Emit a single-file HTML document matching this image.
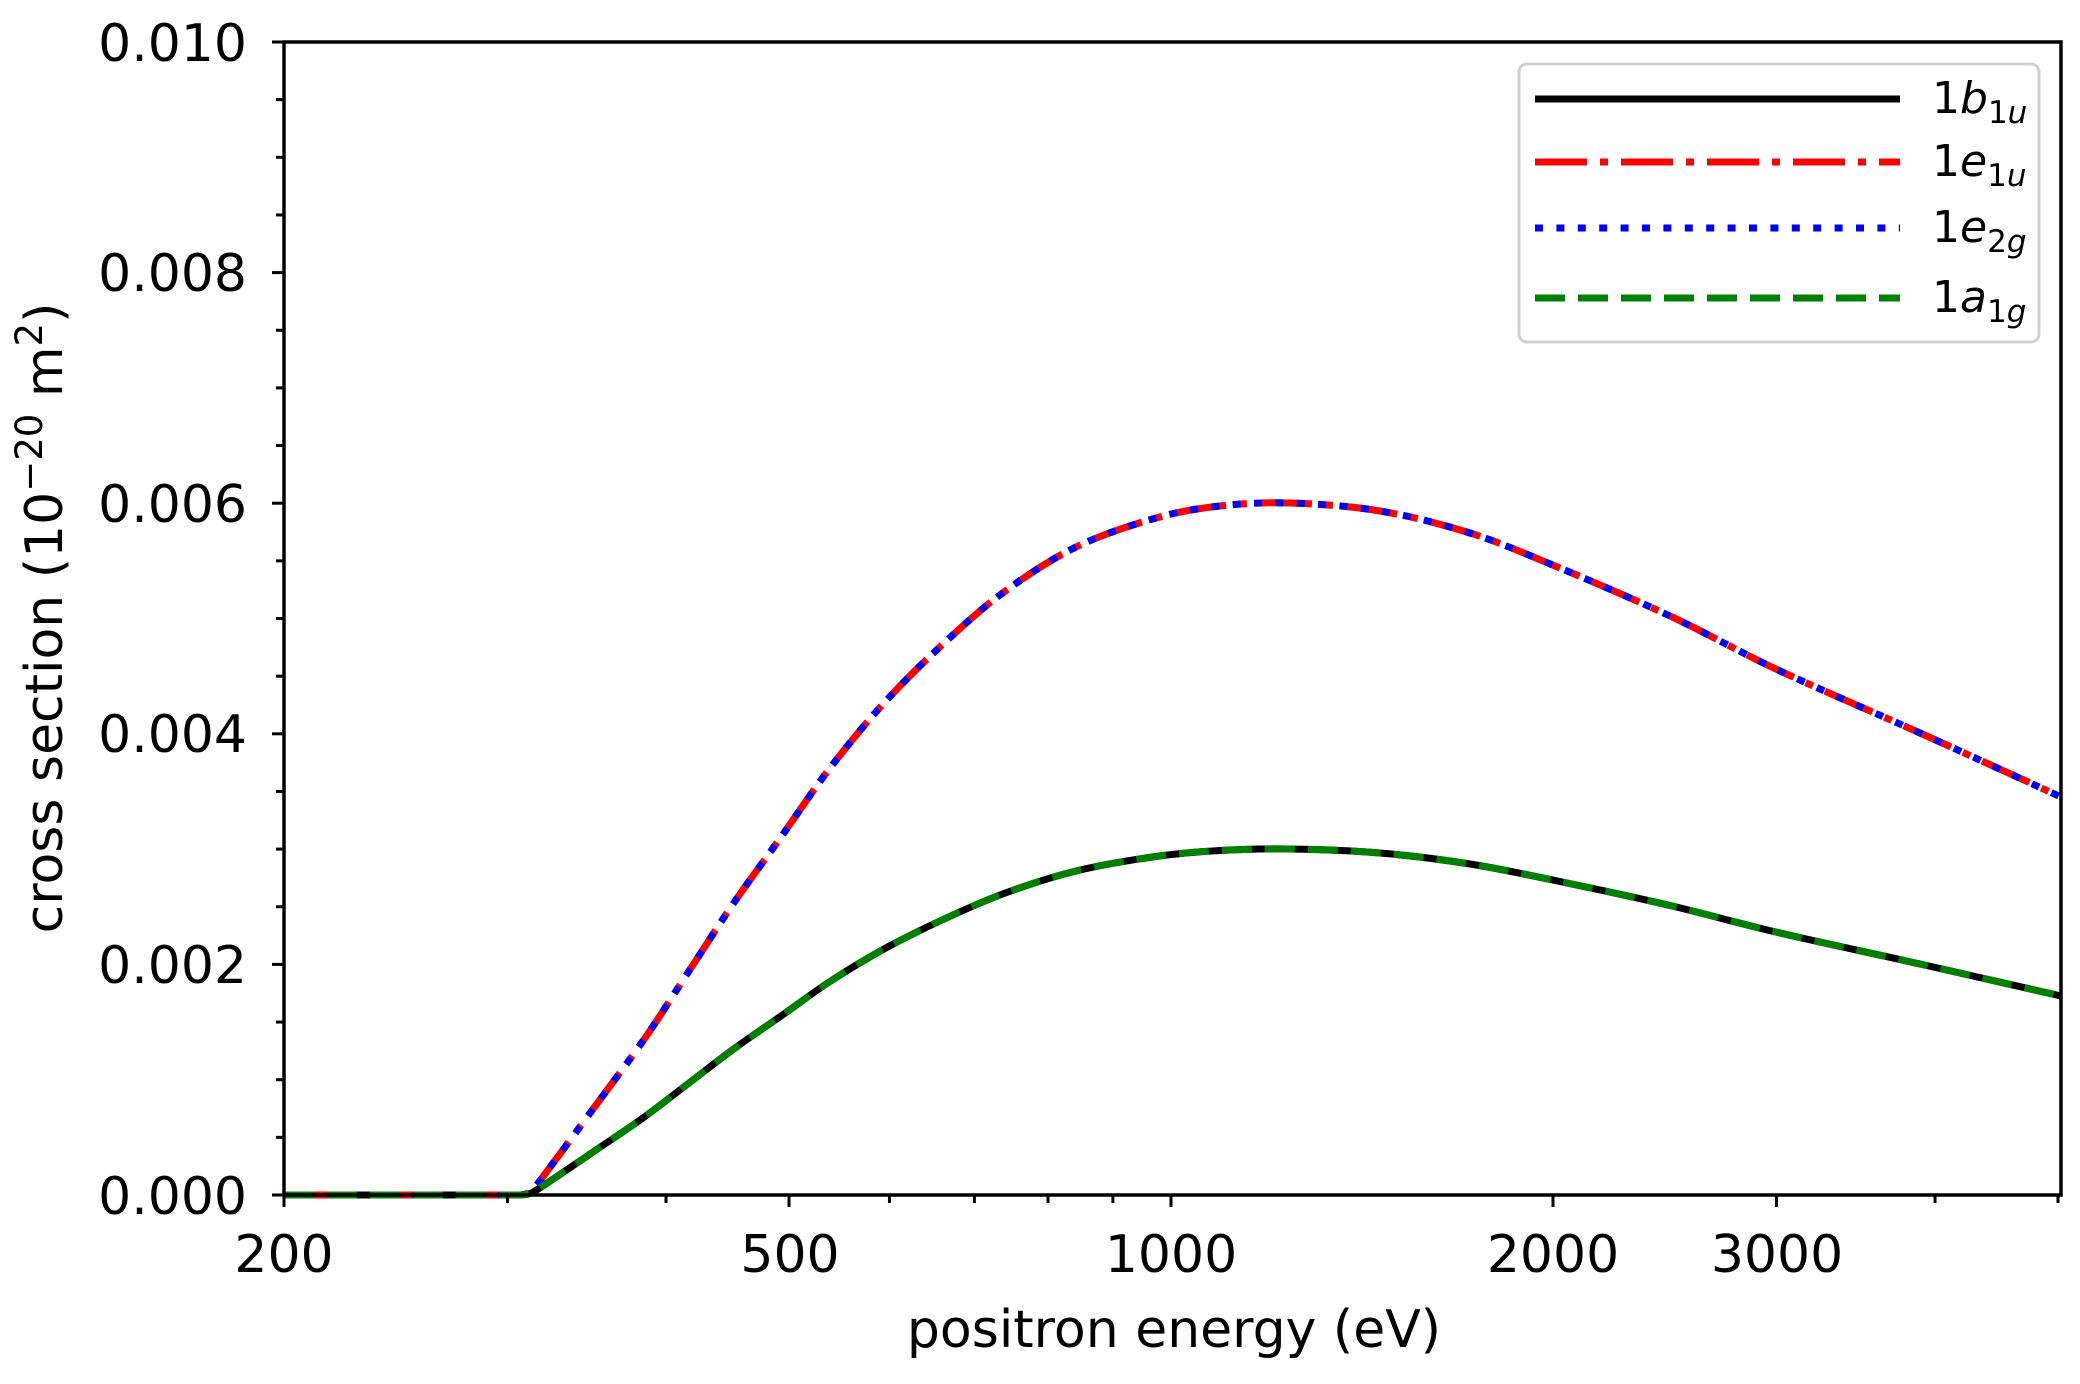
<!DOCTYPE html>
<html><head><meta charset="utf-8"><style>
html,body{margin:0;padding:0;background:#fff;}
svg{display:block;font-family:"DejaVu Sans","Liberation Sans",sans-serif;}
</style></head><body>
<svg id="s" width="2080" height="1384" viewBox="0 0 2080 1384" xmlns="http://www.w3.org/2000/svg">
<rect width="2080" height="1384" fill="#fff"/>
<g id="curves"></g>
<g id="ticks" stroke="#000" stroke-width="3"></g>
<rect x="284" y="42" width="1777" height="1153" fill="none" stroke="#000" stroke-width="3.5"/>
<g font-size="52" fill="#000" text-anchor="end">
<text x="247" y="1214">0.000</text>
<text x="247" y="983">0.002</text>
<text x="247" y="752">0.004</text>
<text x="247" y="522">0.006</text>
<text x="247" y="291">0.008</text>
<text x="247" y="61">0.010</text>
</g>
<g font-size="52" fill="#000" text-anchor="middle">
<text x="284" y="1272">200</text>
<text x="790" y="1272">500</text>
<text x="1171" y="1272">1000</text>
<text x="1553" y="1272">2000</text>
<text x="1777" y="1272">3000</text>
<text x="1174" y="1347">positron energy (eV)</text>
<text transform="translate(62,618) rotate(-90)">cross section (10<tspan dy="-20" font-size="37">−20</tspan><tspan dy="20"> m</tspan><tspan dy="-20" font-size="37">2</tspan><tspan dy="20">)</tspan></text>
</g>
<rect x="1519" y="64" width="520" height="278" rx="8" fill="#fff" fill-opacity="0.85" stroke="#d0d0d0" stroke-width="3"/>
<g stroke-width="7" fill="none">
<line x1="1535" y1="99" x2="1900" y2="99" stroke="#000"/>
<line x1="1535" y1="162" x2="1900" y2="162" stroke="#f00" stroke-dasharray="52 13 8 13"/>
<line x1="1535" y1="228" x2="1900" y2="228" stroke="#00f" stroke-dasharray="8 13.4"/>
<line x1="1535" y1="298" x2="1900" y2="298" stroke="#008000" stroke-dasharray="30 13"/>
</g>
<g font-size="44" fill="#000">
<text x="1932" y="113">1<tspan font-style="italic">b</tspan><tspan font-size="31" dy="10">1<tspan font-style="italic">u</tspan></tspan></text>
<text x="1932" y="176">1<tspan font-style="italic">e</tspan><tspan font-size="31" dy="10">1<tspan font-style="italic">u</tspan></tspan></text>
<text x="1932" y="242">1<tspan font-style="italic">e</tspan><tspan font-size="31" dy="10">2<tspan font-style="italic">g</tspan></tspan></text>
<text x="1932" y="312">1<tspan font-style="italic">a</tspan><tspan font-size="31" dy="10">1<tspan font-style="italic">g</tspan></tspan></text>
</g>
</svg>
<script>
(function(){
var NS="http://www.w3.org/2000/svg";
var t=document.getElementById('ticks');
function ln(x1,y1,x2,y2){var l=document.createElementNS(NS,'line');l.setAttribute('x1',x1);l.setAttribute('y1',y1);l.setAttribute('x2',x2);l.setAttribute('y2',y2);t.appendChild(l);}
for(var i=0;i<=20;i++){var y=1195-i*0.0005*115300;ln(i%4==0?272:276,y,284,y);}
function X(E){return 284+1269*Math.log10(E/200);}
[200,500,1000,2000,3000].forEach(function(E){ln(X(E),1195,X(E),1207);});
[300,400,600,700,800,900,4000,5000].forEach(function(E){ln(X(E),1195,X(E),1203);});
var U=[[284,1195],[518,1195],[530,1192],[542,1178],[596,1105],[645,1038],[689,971],[733,904],[781,837],[830,768],[884,703],[942,645],[1004,592],[1076,547],[1156,518],[1220,506],[1290,503],[1380,511],[1470,533],[1555,566],[1670,616],[1778,670],[1920,733],[2061,797]];
function path(P){var d="M"+P[0][0]+","+P[0][1]+" L"+P[1][0]+","+P[1][1];
for(var i=1;i<P.length-1;i++){var p0=P[Math.max(0,i-1)],p1=P[i],p2=P[i+1],p3=P[Math.min(P.length-1,i+2)];
if(i==1){p0=[p1[0]-(p2[0]-p1[0]),p1[1]];}
var c1=[p1[0]+(p2[0]-p0[0])/6,p1[1]+(p2[1]-p0[1])/6],c2=[p2[0]-(p3[0]-p1[0])/6,p2[1]-(p3[1]-p1[1])/6];
if(i==1){c1=[p1[0]+(p2[0]-p1[0])/3,p1[1]];}
d+=" C"+c1[0].toFixed(1)+","+c1[1].toFixed(1)+" "+c2[0].toFixed(1)+","+c2[1].toFixed(1)+" "+p2[0]+","+p2[1];}
return d;}
var L=U.map(function(p){return [p[0],1195-(1195-p[1])/2];});
var g=document.getElementById('curves');
function add(P,col,da){var p=document.createElementNS(NS,'path');p.setAttribute('d',path(P));p.setAttribute('fill','none');p.setAttribute('stroke',col);p.setAttribute('stroke-width','7');if(da)p.setAttribute('stroke-dasharray',da);g.appendChild(p);}
add(L,'#000',null);
add(U,'#f00','52 13 8 13');
add(U,'#00f','8 13.4');
add(L,'#008000','30 13');
})();
</script>
</body></html>
